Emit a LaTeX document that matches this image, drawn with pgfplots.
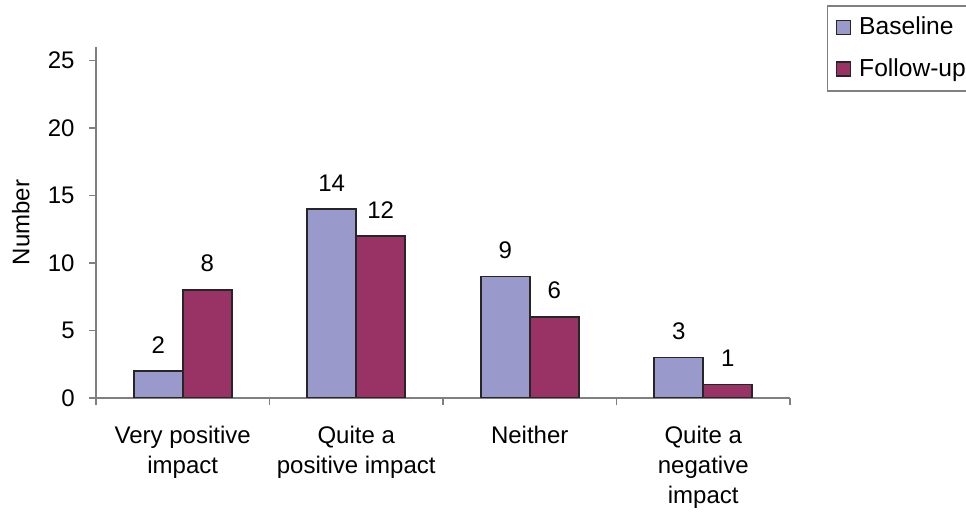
\documentclass[border=0pt]{standalone}
\usepackage{fontspec}
\setmainfont{Liberation Sans}
\usepackage{pgfplots}
\pgfplotsset{compat=1.18}
\definecolor{base}{RGB}{153,153,204}
\definecolor{follow}{RGB}{153,51,102}
\definecolor{axgray}{RGB}{128,128,128}
\begin{document}
\fontsize{12}{15}\selectfont
\begin{tikzpicture}
\path[use as bounding box, clip] (0,0) rectangle (483pt,256pt);
\begin{axis}[
  at={(48pt,57pt)}, anchor=south west,
  scale only axis, width=347pt, height=175.5pt,
  ybar=0pt, bar width=24.5pt,
  xmin=-0.5, xmax=3.5, ymin=0, ymax=26,
  axis lines*=left,
  axis line style={draw=axgray, line width=0.75pt},
  tick style={draw=axgray, line width=0.75pt},
  tick align=outside,
  major tick length=3.5pt, minor tick length=3.5pt,
  xtick={0,1,2,3},
  xticklabels={{Very positive\\impact},{Quite a\\positive impact},{Neither},{Quite a\\negative\\impact}},
  xticklabel style={align=center, anchor=north, yshift=-6.5pt},
  major x tick style={draw=none},
  minor xtick={-0.5,0.5,1.5,2.5,3.5},
  ytick={0,5,10,15,20,25},
  yticklabel style={xshift=-3pt},
  /pgf/number format/assume math mode=true,
  ylabel={Number},
  ylabel style={yshift=1pt},
  nodes near coords,
  nodes near coords style={text=black, anchor=south, yshift=4.5pt},
  legend style={at={(1.0533,1.119)}, anchor=north west, draw=axgray, line width=0.75pt,
    font=\fontsize{12.3}{15}\selectfont,
    row sep=6pt, inner xsep=4pt, inner ysep=3.5pt, cells={anchor=west}},
]
\addplot[fill=base, draw=black!85, line width=0.9pt,
  legend image code/.code={\draw[fill=base, draw=black!85, line width=0.75pt] (0pt,-3.5pt) rectangle (7pt,3.5pt);}]
  coordinates {(0,2) (1,14) (2,9) (3,3)};
\addlegendentry{\hspace{2pt}Baseline}
\addplot[fill=follow, draw=black!85, line width=0.9pt,
  legend image code/.code={\draw[fill=follow, draw=black!85, line width=0.75pt] (0pt,-3.5pt) rectangle (7pt,3.5pt);}]
  coordinates {(0,8) (1,12) (2,6) (3,1)};
\addlegendentry{\hspace{2pt}Follow-up\hspace{8pt}}
\end{axis}
\end{tikzpicture}
\end{document}
